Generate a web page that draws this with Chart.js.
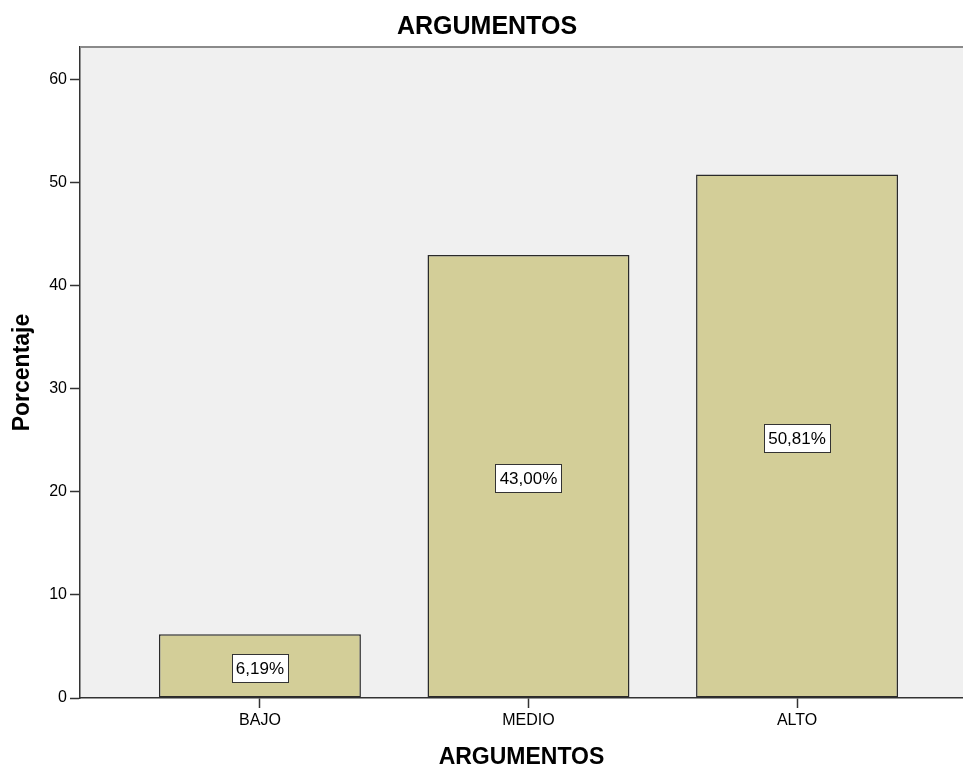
<!DOCTYPE html>
<html>
<head>
<meta charset="utf-8">
<script src="https://cdn.jsdelivr.net/npm/chart.js@4/dist/chart.umd.min.js"></script>
<style>
  html, body { margin: 0; padding: 0; background: #ffffff; }
  #wrap { width: 963px; height: 769px; }
</style>
</head>
<body>
<div id="wrap"><canvas id="chart" width="963" height="769"></canvas></div>
<script>
const categories = ["BAJO", "MEDIO", "ALTO"];
const percentages = [6.19, 43.0, 50.81];
const yTicks = [0, 10, 20, 30, 40, 50, 60];

const FONT = "Arial, 'Liberation Sans', sans-serif";

// plot background and the grey top rule
const plotFrame = {
  id: "plotFrame",
  beforeDraw(chart) {
    const { ctx, chartArea } = chart;
    ctx.save();
    ctx.fillStyle = "#f0f0f0";
    ctx.fillRect(chartArea.left, chartArea.top, chartArea.right - chartArea.left, chartArea.bottom - chartArea.top);
    ctx.restore();
  },
  afterDraw(chart) {
    const { ctx, chartArea } = chart;
    ctx.save();
    ctx.strokeStyle = "#8a8a8a";
    ctx.lineWidth = 2;
    ctx.beginPath();
    ctx.moveTo(chartArea.left, chartArea.top);
    ctx.lineTo(chartArea.right, chartArea.top);
    ctx.stroke();
    ctx.restore();
  },
};

// white boxed percentage in the middle of each bar
const barLabels = {
  id: "barLabels",
  afterDatasetsDraw(chart) {
    const { ctx } = chart;
    const meta = chart.getDatasetMeta(0);
    ctx.save();
    ctx.font = "17px " + FONT;
    ctx.textAlign = "center";
    ctx.textBaseline = "middle";
    meta.data.forEach((bar, index) => {
      const text = percentages[index].toFixed(2).replace(".", ",") + "%";
      const w = Math.round(ctx.measureText(text).width + 8);
      const h = 28;
      const cx = bar.x;
      const cy = (bar.y + bar.base) / 2 + 2;
      const left = Math.round(cx - w / 2) + 0.5;
      const top = Math.round(cy - h / 2) + 0.5;
      ctx.fillStyle = "#ffffff";
      ctx.fillRect(left, top, w, h);
      ctx.strokeStyle = "#333333";
      ctx.lineWidth = 1;
      ctx.strokeRect(left, top, w, h);
      ctx.fillStyle = "#000000";
      ctx.fillText(text, cx, cy + 1);
    });
    ctx.restore();
  },
};

new Chart(document.getElementById("chart").getContext("2d"), {
  type: "bar",
  data: {
    datasets: [
      {
        data: percentages.map((value, index) => ({ x: index, y: value })),
        backgroundColor: "#d3ce98",
        borderColor: "#2a2a2a",
        borderWidth: 1.5,
        borderSkipped: false,
        categoryPercentage: 1,
        barPercentage: 0.752,
      },
    ],
  },
  options: {
    responsive: false,
    animation: false,
    layout: { padding: { left: 11, right: 0, top: 0, bottom: 0 } },
    plugins: {
      legend: { display: false },
      tooltip: { enabled: false },
      title: {
        display: true,
        text: "ARGUMENTOS",
        color: "#000000",
        font: { family: FONT, size: 25, weight: "bold", lineHeight: 1 },
        padding: { top: 15, bottom: 7 },
      },
    },
    scales: {
      x: {
        type: "linear",
        offset: false,
        min: -0.67,
        max: 2.618,
        afterBuildTicks: (scale) => {
          scale.ticks = categories.map((_, index) => ({ value: index }));
        },
        afterFit: (scale) => {
          scale.height = 71;
        },
        ticks: {
          color: "#000000",
          font: { family: FONT, size: 16 },
          padding: 3,
          maxRotation: 0,
          callback: (value) => categories[value],
        },
        grid: {
          offset: false,
          drawOnChartArea: false,
          drawTicks: true,
          tickLength: 10,
          tickWidth: 1.5,
          color: "#333333",
        },
        border: { display: true, color: "#333333", width: 1.5 },
        title: {
          display: true,
          text: "ARGUMENTOS",
          color: "#000000",
          font: { family: FONT, size: 23, weight: "bold", lineHeight: 1 },
          padding: { top: 0, bottom: 0 },
        },
      },
      y: {
        min: 0,
        max: 63.2,
        afterBuildTicks: (scale) => {
          scale.ticks = yTicks.map((value) => ({ value }));
        },
        afterFit: (scale) => {
          scale.width = 69;
        },
        ticks: {
          color: "#000000",
          font: { family: FONT, size: 16 },
          padding: 3,
        },
        grid: {
          drawOnChartArea: false,
          drawTicks: true,
          tickLength: 10,
          tickWidth: 1.5,
          color: "#333333",
        },
        border: { display: true, color: "#333333", width: 1.5 },
        title: {
          display: true,
          text: "Porcentaje",
          color: "#000000",
          font: { family: FONT, size: 23, weight: "bold", lineHeight: 1 },
          padding: { top: 0, bottom: 0 },
        },
      },
    },
  },
  plugins: [plotFrame, barLabels],
});
</script>
</body>
</html>
